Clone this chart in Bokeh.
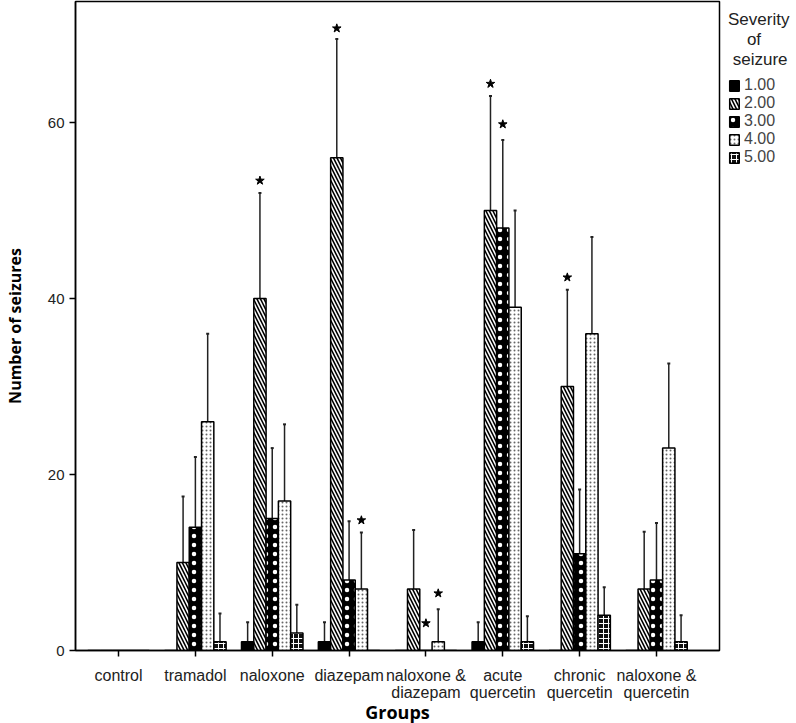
from bokeh.plotting import figure
from bokeh.models import (ColumnDataSource, Range1d, FixedTicker, Whisker, TeeHead,
                          Legend, LegendItem)
from bokeh.transform import dodge
from bokeh.embed import file_html
from bokeh.resources import INLINE

groups = ["control", "tramadol", "naloxone", "diazepam", "naloxone &\ndiazepam",
          "acute\nquercetin", "chronic\nquercetin", "naloxone &\nquercetin"]
severity = ["1.00", "2.00", "3.00", "4.00", "5.00"]

sev1 = [0, 0, 1, 1, 0, 1, 0, 0]
sev2 = [0, 10, 40, 56, 7, 50, 30, 7]
sev3 = [0, 14, 15, 8, 0, 48, 11, 8]
sev4 = [0, 26, 17, 7, 1, 39, 36, 23]
sev5 = [0, 1, 2, 0, 0, 1, 4, 1]

err1 = [0, 0, 2.2, 2.2, 0, 2.2, 0, 0]
err2 = [0, 7.5, 12, 13.5, 6.7, 13, 11, 6.5]
err3 = [0, 8, 8, 6.7, 0, 10, 7.3, 6.5]
err4 = [0, 10, 8.7, 6.4, 3.7, 11, 11, 9.6]
err5 = [0, 3.2, 3.2, 0, 0, 2.9, 3.2, 3]

star_group = [2, 3, 3, 4, 4, 5, 5, 6]
star_sev = [1, 1, 3, 2, 3, 1, 2, 1]
star_y = [53.4, 70.7, 14.8, 3.1, 6.5, 64.4, 59.8, 42.4]

values = [sev1, sev2, sev3, sev4, sev5]
errors = [err1, err2, err3, err4, err5]
bar_w = 0.16
offsets = [-2 * bar_w, -bar_w, 0.0, bar_w, 2 * bar_w]

styles = [
    dict(fill_color="black"),
    dict(fill_color="white", hatch_pattern="left_diagonal_line", hatch_color="black",
         hatch_scale=7, hatch_weight=1.6),
    dict(fill_color="black", hatch_pattern="dot", hatch_color="white",
         hatch_scale=9, hatch_weight=8),
    dict(fill_color="white", hatch_pattern="dot", hatch_color="#666666",
         hatch_scale=4, hatch_weight=1),
    dict(fill_color="#111111", hatch_pattern="cross", hatch_color="white",
         hatch_scale=5, hatch_weight=1),
]

p = figure(output_backend="svg", toolbar_location=None,
           frame_width=644, frame_height=649,
           min_border_left=75, min_border_right=71, min_border_top=1, min_border_bottom=64,
           x_range=Range1d(-0.56, 7.82), y_range=Range1d(0, 73.75))

xs = list(range(len(groups)))
items = []
for i in range(5):
    src = ColumnDataSource(dict(x=xs, top=values[i]))
    r = p.vbar(x=dodge("x", offsets[i]), top="top", width=bar_w, source=src,
               line_color="black", line_width=1.5, **styles[i])
    items.append(LegendItem(label=severity[i], renderers=[r]))
    esrc = ColumnDataSource(dict(
        x=[x for x, e in zip(xs, errors[i]) if e > 0],
        upper=[v + e for v, e in zip(values[i], errors[i]) if e > 0],
        lower=[v - e for v, e in zip(values[i], errors[i]) if e > 0]))
    w = Whisker(base=dodge("x", offsets[i]), upper="upper", lower="lower", source=esrc,
                dimension="height", line_color="#222222", line_width=1.5,
                upper_head=TeeHead(size=3, line_color="#222222", line_width=2),
                lower_head=TeeHead(size=3, line_color="#222222", line_width=2))
    p.add_layout(w)

ssrc = ColumnDataSource(dict(x=[g + offsets[s] for g, s in zip(star_group, star_sev)], y=star_y))
p.scatter(x="x", y="y", source=ssrc, marker="star", size=9, fill_color="black",
          line_color="black")

p.xgrid.grid_line_color = None
p.ygrid.grid_line_color = None
p.outline_line_color = "black"
p.outline_line_width = 1.5

p.xaxis.ticker = FixedTicker(ticks=xs)
p.xaxis.major_label_overrides = {i: g for i, g in enumerate(groups)}
p.yaxis.ticker = FixedTicker(ticks=[0, 20, 40, 60])
for ax in (p.xaxis, p.yaxis):
    ax.minor_tick_line_color = None
    ax.major_tick_in = 0
    ax.major_tick_out = 6
    ax.major_tick_line_width = 1.5
    ax.axis_line_width = 1.5
    ax.axis_line_color = "black"
    ax.major_tick_line_color = "black"
    ax.major_label_text_font = "Liberation Sans"
    ax.major_label_text_font_size = "16px"
    ax.major_label_text_color = "#222222"
    ax.axis_label_text_font = "Open Sans"
    ax.axis_label_text_font_style = "bold"
    ax.axis_label_text_color = "black"
p.yaxis.major_label_text_font_size = "15px"
p.xaxis.major_label_text_line_height = 1.0
p.xaxis.axis_label = "Groups"
p.xaxis.axis_label_text_font_size = "18px"
p.xaxis.major_label_standoff = 10
p.xaxis.axis_label_standoff = -4
p.yaxis.axis_label = "Number of seizures"
p.yaxis.axis_label_text_font_size = "16px"
p.yaxis.axis_label_standoff = 19

legend = Legend(items=items, location="top_left", border_line_color=None,
                background_fill_alpha=0, glyph_width=12, glyph_height=13,
                label_text_font="Liberation Sans", label_text_font_size="16px",
                label_standoff=4, spacing=0, padding=0, margin=9,
                label_height=13,
                title="Severity\n    of\n seizure", title_text_font="Liberation Sans",
                title_text_font_size="17px", title_text_font_style="normal",
                title_text_color="#222222", title_text_line_height=1.15,
                title_standoff=6)
p.add_layout(legend, "right")

open("out.html", "w").write(file_html(p, INLINE))
